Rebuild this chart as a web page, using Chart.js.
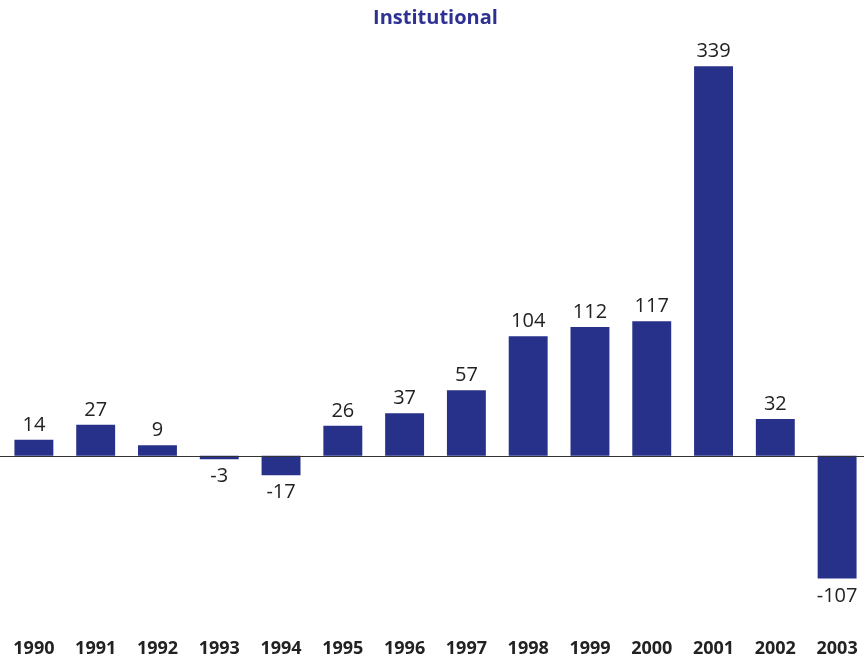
<!DOCTYPE html>
<html>
<head>
<meta charset="utf-8">
<script src="https://cdn.jsdelivr.net/npm/chart.js@4"></script>
<style>
  html, body { margin: 0; padding: 0; background: #fff; overflow: hidden; }
  canvas { display: block; }
</style>
</head>
<body>
<canvas id="myChart" width="868" height="660"></canvas>
<script>
var years = ['1990', '1991', '1992', '1993', '1994', '1995', '1996', '1997', '1998', '1999', '2000', '2001', '2002', '2003'];
var flows = [14, 27, 9, -3, -17, 26, 37, 57, 104, 112, 117, 339, 32, -107];
var chartTitle = 'Institutional';

// zero line across the whole width, plus value labels
var extras = {
    id: 'extras',
    afterDatasetsDraw: function (chart) {
        var c = chart.ctx;
        var y0 = Math.round(chart.scales.y.getPixelForValue(0)) + 0.5;
        c.save();
        c.strokeStyle = '#333333';
        c.lineWidth = 1;
        c.beginPath();
        c.moveTo(0, y0);
        c.lineTo(chart.width, y0);
        c.stroke();

        c.fillStyle = '#222222';
        c.font = '20px "Open Sans", "Noto Sans", sans-serif';
        c.textAlign = 'center';
        c.textBaseline = 'alphabetic';
        chart.getDatasetMeta(0).data.forEach(function (bar, i) {
            var v = flows[i];
            var y = v >= 0 ? bar.y - 9 : bar.y + 23;
            c.fillText(String(v), bar.x, y);
        });
        c.restore();
    }
};

var ctx = document.getElementById('myChart').getContext('2d');
var myChart = new Chart(ctx, {
    type: 'bar',
    data: {
        labels: years,
        datasets: [{
            data: flows,
            backgroundColor: '#28318A',
            borderWidth: 0,
            categoryPercentage: 1,
            barPercentage: 0.63
        }]
    },
    options: {
        responsive: false,
        animation: false,
        layout: { padding: { left: 3, right: 0, top: 0, bottom: 2 } },
        plugins: {
            legend: { display: false },
            tooltip: { enabled: false },
            title: {
                display: true,
                text: chartTitle,
                color: '#2E3192',
                font: { family: '"Open Sans", "Noto Sans", sans-serif', size: 20, weight: 'bold', lineHeight: 1.2 },
                padding: { top: 6, bottom: 6 }
            }
        },
        scales: {
            x: {
                grid: { display: false, drawTicks: true, tickLength: 17 },
                border: { display: false },
                afterFit: function (scale) { scale.height = 37; },
                ticks: {
                    color: '#222222',
                    padding: 0,
                    maxRotation: 0,
                    font: { family: '"Open Sans", "Noto Sans", sans-serif', size: 18, weight: 'bold', lineHeight: 1.2 }
                }
            },
            y: {
                display: false,
                min: -143.9,
                max: 365.4
            }
        }
    },
    plugins: [extras]
});
</script>
</body>
</html>
